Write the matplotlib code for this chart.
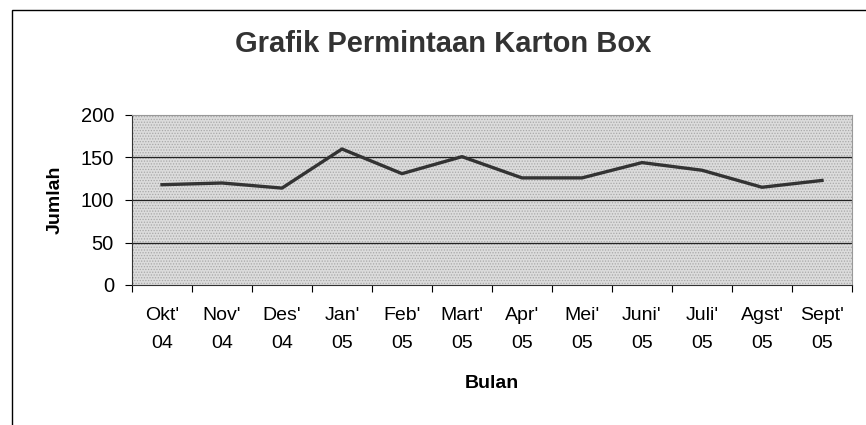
import matplotlib.pyplot as plt
from matplotlib.patches import Rectangle

bulan = ["Okt'\n04", "Nov'\n04", "Des'\n04", "Jan'\n05", "Feb'\n05", "Mart'\n05",
         "Apr'\n05", "Mei'\n05", "Juni'\n05", "Juli'\n05", "Agst'\n05", "Sept'\n05"]
jumlah = [118, 120, 114, 160, 131, 151, 126, 126, 144, 135, 115, 123]
y_ticks = [0, 50, 100, 150, 200]

plt.rcParams['font.family'] = ['Liberation Sans', 'DejaVu Sans']
plt.rcParams['hatch.linewidth'] = 0.6

fig = plt.figure(figsize=(8.66, 4.25), dpi=100)
# outer chart frame (right and bottom edges run off the scan)
fig.patches.append(Rectangle((12 / 866, -0.1), 1.2, (415 / 425) + 0.1, transform=fig.transFigure,
                             fill=False, edgecolor="black", linewidth=1.0))

ax = fig.add_axes([132 / 866, 140 / 425, 720 / 866, 170 / 425])
ax.set_facecolor("#dcdcdc")
ax.add_patch(Rectangle((0, 0), 1, 1, transform=ax.transAxes, facecolor="none",
                       edgecolor="#a8a8a8", hatch="......", linewidth=0, zorder=0))

x = [i + 0.5 for i in range(len(jumlah))]
for yv in y_ticks[1:-1]:
    ax.axhline(yv, color="#222222", linewidth=0.9, zorder=1)
ax.plot(x, jumlah, color="#333333", linewidth=2.4, zorder=3)

ax.set_xlim(0, len(jumlah))
ax.set_ylim(0, 200)
ax.set_yticks(y_ticks)
ax.set_xticks(range(len(jumlah) + 1))
ax.set_xticklabels([])
ax.set_xticks(x, minor=True)
ax.set_xticklabels(bulan, minor=True, fontsize=14, linespacing=1.8)
ax.tick_params(axis="x", which="minor", length=0, pad=16)
ax.tick_params(axis="x", which="major", length=5, direction="out")
ax.tick_params(axis="y", labelsize=14.5, length=5, pad=8)

for s in ["top", "right"]:
    ax.spines[s].set_color("#999999")
ax.spines["left"].set_color("#333333")
ax.spines["bottom"].set_color("#333333")

ax.set_ylabel("Jumlah", fontsize=14, fontweight="bold", labelpad=12)
ax.set_xlabel("Bulan", fontsize=14, fontweight="bold", labelpad=17)
fig.text(443 / 866, 1 - 52 / 425, "Grafik Permintaan Karton Box", ha="center", va="baseline",
         fontsize=21, fontweight="bold", color="#333333")

fig.savefig("out.png", dpi=100)
